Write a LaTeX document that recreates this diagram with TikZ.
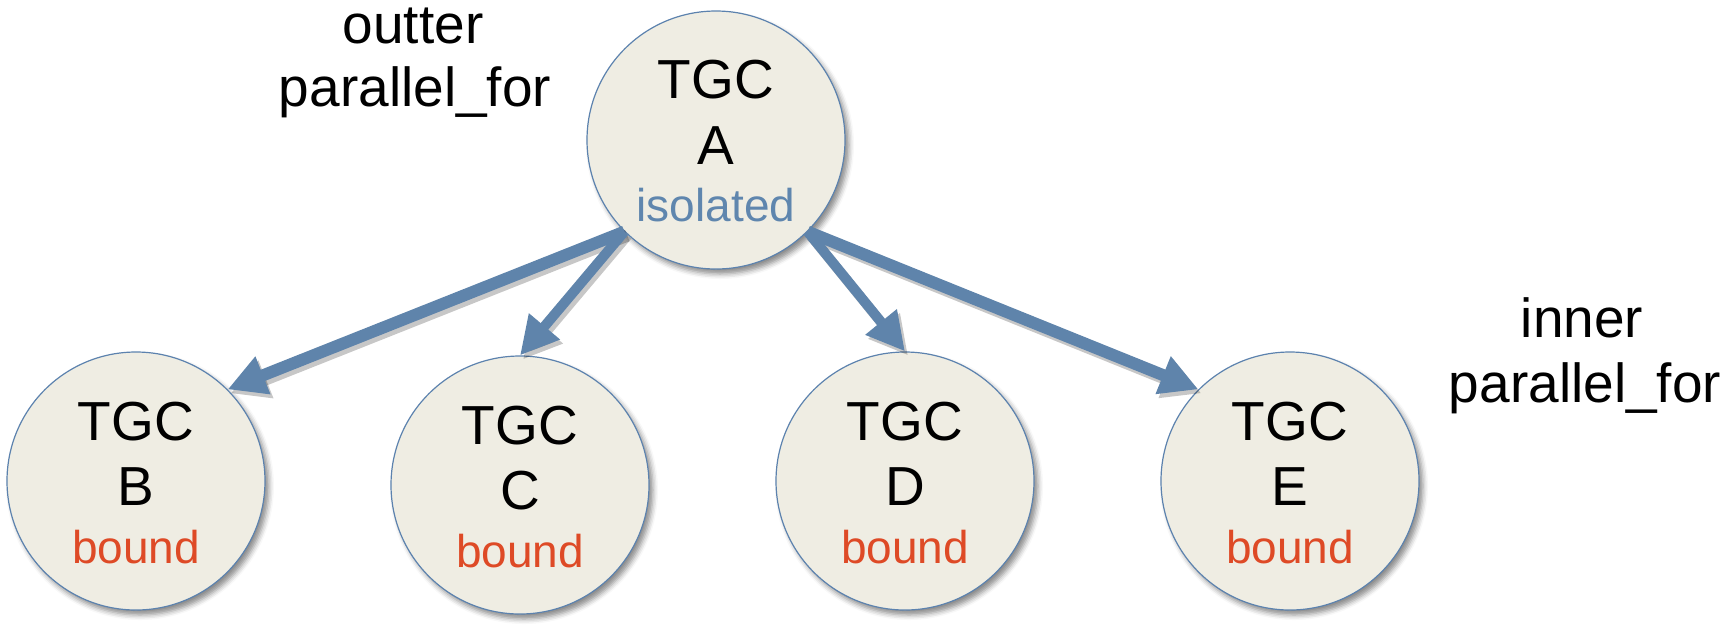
\documentclass[tikz,border=0pt]{standalone}
\usepackage{fontspec}
\setmainfont{Liberation Sans}
\usetikzlibrary{arrows.meta,shadows.blur}
\definecolor{nodefill}{RGB}{239,237,227}
\definecolor{nodeborder}{RGB}{92,130,174}
\definecolor{arrowblue}{RGB}{95,132,171}
\definecolor{isoblue}{RGB}{95,134,174}
\definecolor{boundred}{RGB}{222,74,38}
\tikzset{
  tgc/.style={circle, draw=nodeborder, line width=0.6pt, fill=nodefill,
    minimum size=129pt, inner sep=0pt,
    blur shadow={shadow xshift=2pt, shadow yshift=-2.5pt, shadow blur radius=2.5pt, shadow opacity=45}},
  big/.style={font=\fontsize{27.5}{32}\selectfont, anchor=base, inner sep=0pt, text=black},
  small/.style={font=\fontsize{23}{28}\selectfont, anchor=base, inner sep=0pt},
  conn/.style={draw=arrowblue, -{Triangle[length=19pt,width=19pt]}},
  connshadow/.style={draw=black, opacity=0.22, -{Triangle[length=19pt,width=19pt]}},
  thickconn/.style={line width=6pt},
  thinconn/.style={line width=5pt}
}
\begin{document}
\begin{tikzpicture}[x=0.5pt,y=-0.5pt]
\useasboundingbox (0,0) rectangle (1725,634);
% circles
\node[tgc] (A) at (716,140) {};
\node[tgc] (B) at (136,481) {};
\node[tgc] (C) at (520,485) {};
\node[tgc] (D) at (905,481) {};
\node[tgc] (E) at (1290,481) {};
% texts
\node[big] (A1) at (716,98) {TGC};
\node[big] (A2) at (716,164) {A};
\node[small, text=isoblue] (A3) at (716,221) {isolated};
\node[big] (B1) at (136,440) {TGC};
\node[big] (B2) at (136,505) {B};
\node[small, text=boundred] (B3) at (136,563) {bound};
\node[big] (C1) at (520,444) {TGC};
\node[big] (C2) at (520,509) {C};
\node[small, text=boundred] (C3) at (520,567) {bound};
\node[big] (D1) at (905,440) {TGC};
\node[big] (D2) at (905,505) {D};
\node[small, text=boundred] (D3) at (905,563) {bound};
\node[big] (E1) at (1290,440) {TGC};
\node[big] (E2) at (1290,505) {E};
\node[small, text=boundred] (E3) at (1290,563) {bound};
% side labels
\node[big] (L1) at (413,43) {outter};
\node[big] (L2) at (415,106) {parallel\_for};
\node[big] (R1) at (1582,337) {inner};
\node[big] (R2) at (1585,402) {parallel\_for};
% arrow shadows
\draw[connshadow, thickconn] ([shift={(3,4)}]A.-135) -- ([shift={(3,4)}]B.45);
\draw[connshadow, thinconn] ([shift={(3,4)}]A.-135) -- ([shift={(3,4)}]C.north);
\draw[connshadow, thinconn] ([shift={(3,4)}]A.-45) -- ([shift={(3,4)}]D.north);
\draw[connshadow, thickconn] ([shift={(3,4)}]A.-45) -- ([shift={(3,4)}]E.135);
% arrows
\draw[conn, thickconn] (A.-135) -- (B.45);
\draw[conn, thinconn] (A.-135) -- (C.north);
\draw[conn, thinconn] (A.-45) -- (D.north);
\draw[conn, thickconn] (A.-45) -- (E.135);
\end{tikzpicture}
\end{document}
